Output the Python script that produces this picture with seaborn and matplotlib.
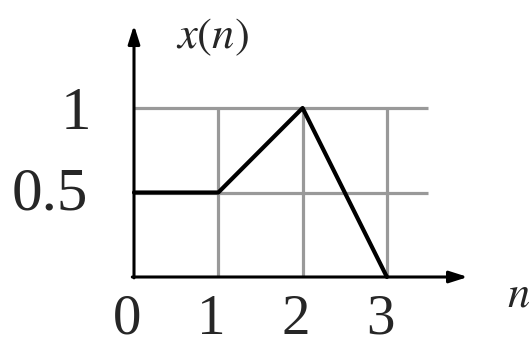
import seaborn as sns
import matplotlib
matplotlib.use("Agg")
import matplotlib.pyplot as plt
import pandas as pd

# signal samples
n_vals = [0, 1, 2, 3]
x_vals = [0.5, 0.5, 1.0, 0.0]
n_ticks = [0, 1, 2, 3]
y_ticks = [0.5, 1.0]
y_tick_labels = ["0.5", "1"]

df = pd.DataFrame({"n": n_vals, "x": x_vals})

sns.set_style("white")
plt.rcParams['font.family'] = ['Liberation Serif', 'DejaVu Serif']

fig = plt.figure(figsize=(5.30, 3.49), dpi=100)
ax = fig.add_axes([0, 0, 1, 1])
# pixel mapping: n -> 134 + 84.3*n, y -> 277 - 169*y
ax.set_xlim(-134 / 84.3, (530 - 134) / 84.3)
ax.set_ylim((277 - 349) / 169, 277 / 169)
ax.axis("off")

grid = "#999999"
ax.vlines(n_ticks[1:], 0, max(y_ticks), color=grid, lw=2.3, zorder=1)
ax.hlines(y_ticks, 0, 3.49, color=grid, lw=2.3, zorder=1)

# axes with arrows
arrow = dict(arrowstyle="-|>,head_length=1.1,head_width=0.35",
             color="black", lw=2.2, shrinkA=0, shrinkB=0)
ax.annotate("", xy=(3.96, 0), xytext=(-0.02, 0), arrowprops=arrow, zorder=3)
ax.annotate("", xy=(0, 1.49), xytext=(0, -0.005), arrowprops=arrow, zorder=3)

sns.lineplot(data=df, x="n", y="x", color="black", lw=3.0, ax=ax, zorder=4)

for t in n_ticks:
    ax.text(t - 0.08, (277 - 334) / 169, str(t), fontsize=41,
            ha="center", va="baseline")
ax.text(-1.0, y_ticks[0] - 0.015, y_tick_labels[0], fontsize=44, ha="center", va="center")
ax.text(-0.69, y_ticks[1] - 0.035, y_tick_labels[1], fontsize=44, ha="center", va="center")

ax.text(0.925, 1.42, "$x(n)$", fontsize=32, ha="center", va="center",
        math_fontfamily="stix")
ax.text(4.56, -0.107, "$n$", fontsize=32, ha="center", va="center",
        math_fontfamily="stix")

fig.savefig("out.png", dpi=100)
